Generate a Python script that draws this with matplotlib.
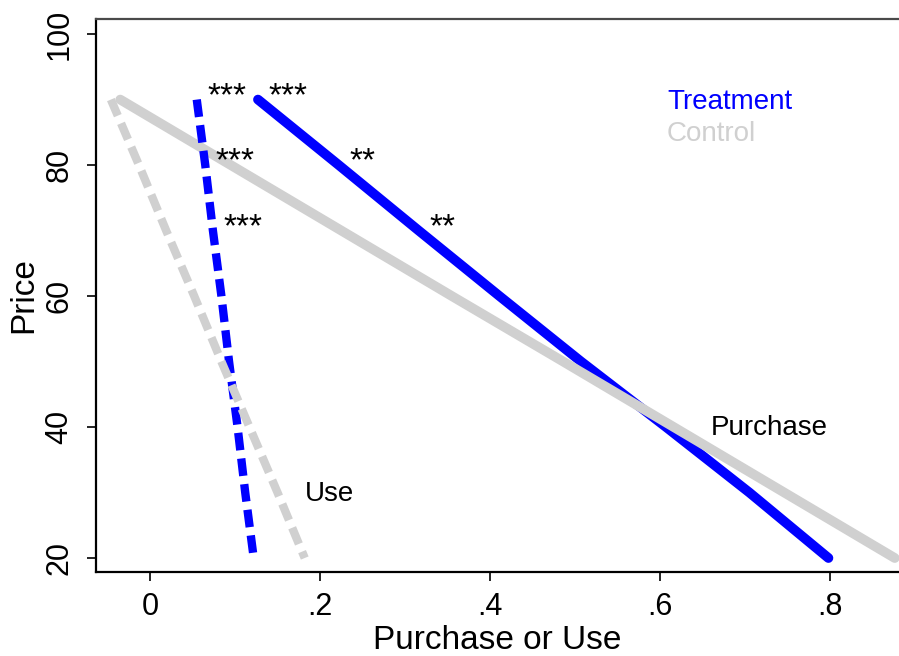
import matplotlib
matplotlib.use("Agg")
from matplotlib import pyplot as plt

plt.rcParams['font.family'] = ['Liberation Sans', 'DejaVu Sans']

# price levels and demand (share purchasing / using)
price = [90, 80, 70, 60, 50, 40, 30, 20]
treat_purchase = [0.127, 0.222, 0.316, 0.411, 0.507, 0.607, 0.705, 0.798]
control_purchase = [-0.035, 0.095, 0.225, 0.355, 0.486, 0.616, 0.746, 0.876]
treat_use = [0.055, 0.065, 0.074, 0.084, 0.093, 0.103, 0.112, 0.122]
control_use = [-0.046, -0.013, 0.019, 0.052, 0.084, 0.117, 0.150, 0.182]

# significance stars (treatment vs control) at first three prices
star_prices = [90, 80, 70]
stars_purchase = ["***", "**", "**"]
stars_use = ["***", "***", "***"]

blue = "#0000ff"
gray = "#d0d0d0"

fig = plt.figure(figsize=(8.99, 6.56), dpi=100)
ax = fig.add_axes([0.1068, 0.128, 0.8932, 0.843])

ax.plot(treat_purchase, price, color=blue, lw=7, solid_capstyle='round',
        solid_joinstyle='round', zorder=2)
ax.plot(control_purchase, price, color=gray, lw=7, solid_capstyle='round', zorder=3)
ax.plot(treat_use, price, color=blue, lw=6, dashes=(2.1, 1.0), dash_capstyle='butt', zorder=4)
ax.plot(control_use, price, color=gray, lw=6, dashes=(2.1, 1.0), dash_capstyle='butt', zorder=5)

for p, s in zip(star_prices, stars_purchase):
    xv = treat_purchase[price.index(p)]
    ax.annotate(s, (xv, p), xytext=(7.5, -4), textcoords='offset points',
                fontsize=24, va='baseline', ha='left', zorder=6)
for p, s in zip(star_prices, stars_use):
    xv = treat_use[price.index(p)]
    ax.annotate(s, (xv, p), xytext=(7.5, -4), textcoords='offset points',
                fontsize=24, va='baseline', ha='left', zorder=6)

ax.text(0.608, 89.7, "Treatment", color=blue, fontsize=20, va='center', ha='left')
ax.text(0.608, 84.8, "Control", color=gray, fontsize=20, va='center', ha='left')
ax.text(0.659, 39.8, "Purchase", fontsize=20, va='center', ha='left')
ax.text(0.182, 29.8, "Use", fontsize=20, va='center', ha='left')

ax.set_xlim(-0.0635, 0.881)
ax.set_ylim(17.86, 102.3)
ax.set_xticks([0, 0.2, 0.4, 0.6, 0.8])
ax.set_xticklabels(["0", ".2", ".4", ".6", ".8"])
ax.set_yticks([20, 40, 60, 80, 100])
ax.set_yticklabels(["20", "40", "60", "80", "100"], rotation=90, va='center')
ax.tick_params(axis='both', labelsize=22, length=6.5, width=1.2, direction='out')
ax.tick_params(axis='x', pad=8)
ax.tick_params(axis='y', pad=9)

ax.set_xlabel("Purchase or Use", fontsize=24, labelpad=2)
ax.set_ylabel("Price", fontsize=24, labelpad=4)

ax.spines['right'].set_visible(False)
ax.spines['top'].set_color('#4a4a4a')
for s in ['left', 'bottom', 'top']:
    ax.spines[s].set_linewidth(1.6)

fig.savefig("out.png", dpi=100)
